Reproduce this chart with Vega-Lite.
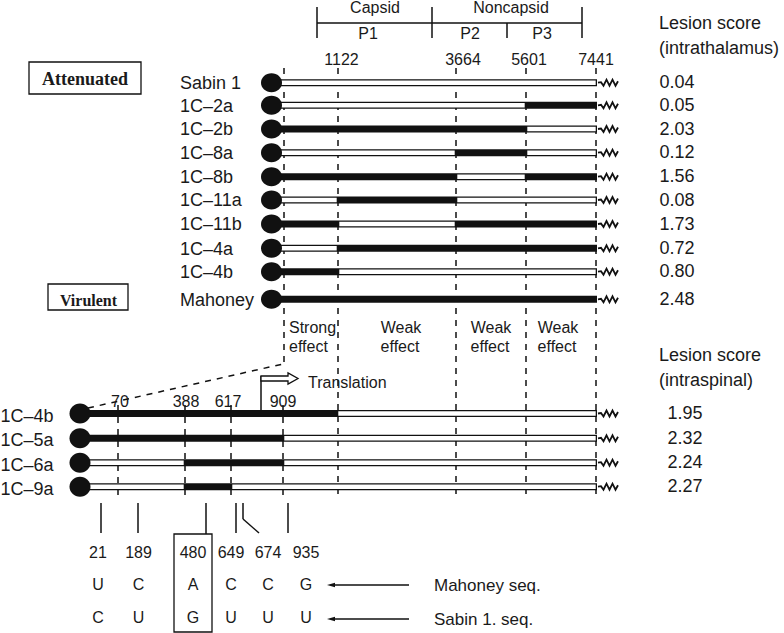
{
  "$schema": "https://vega.github.io/schema/vega-lite/v6.json",
  "width": 784,
  "height": 633,
  "padding": 0,
  "autosize": {"type": "none"},
  "background": "white",
  "config": {"view": {"stroke": null}, "text": {"font": "Liberation Sans", "color": "#1a1a1a"}},
  "datasets": {
    "rows": [
      {"label": "Sabin 1", "panel": "top", "y": 82.7, "score": "0.04"},
      {"label": "1C–2a", "panel": "top", "y": 105.3, "score": "0.05"},
      {"label": "1C–2b", "panel": "top", "y": 129, "score": "2.03"},
      {"label": "1C–8a", "panel": "top", "y": 152.7, "score": "0.12"},
      {"label": "1C–8b", "panel": "top", "y": 176.7, "score": "1.56"},
      {"label": "1C–11a", "panel": "top", "y": 200, "score": "0.08"},
      {"label": "1C–11b", "panel": "top", "y": 224, "score": "1.73"},
      {"label": "1C–4a", "panel": "top", "y": 248.3, "score": "0.72"},
      {"label": "1C–4b", "panel": "top", "y": 271.7, "score": "0.80"},
      {"label": "Mahoney", "panel": "top", "y": 299.3, "score": "2.48"},
      {"label": "1C–4b", "panel": "bottom", "y": 413.5, "score": "1.95"},
      {"label": "1C–5a", "panel": "bottom", "y": 438.3, "score": "2.32"},
      {"label": "1C–6a", "panel": "bottom", "y": 462.7, "score": "2.24"},
      {"label": "1C–9a", "panel": "bottom", "y": 486.7, "score": "2.27"}
    ],
    "segments": [
      {"row": "Sabin 1", "y": 82.7, "x": 276, "x2": 597, "src": "S"},
      {"row": "1C–2a", "y": 105.3, "x": 276, "x2": 526, "src": "S"},
      {"row": "1C–2a", "y": 105.3, "x": 526, "x2": 597, "src": "M"},
      {"row": "1C–2b", "y": 129, "x": 276, "x2": 526, "src": "M"},
      {"row": "1C–2b", "y": 129, "x": 526, "x2": 597, "src": "S"},
      {"row": "1C–8a", "y": 152.7, "x": 276, "x2": 456, "src": "S"},
      {"row": "1C–8a", "y": 152.7, "x": 456, "x2": 526, "src": "M"},
      {"row": "1C–8a", "y": 152.7, "x": 526, "x2": 597, "src": "S"},
      {"row": "1C–8b", "y": 176.7, "x": 276, "x2": 456, "src": "M"},
      {"row": "1C–8b", "y": 176.7, "x": 456, "x2": 526, "src": "S"},
      {"row": "1C–8b", "y": 176.7, "x": 526, "x2": 597, "src": "M"},
      {"row": "1C–11a", "y": 200, "x": 276, "x2": 338, "src": "S"},
      {"row": "1C–11a", "y": 200, "x": 338, "x2": 456, "src": "M"},
      {"row": "1C–11a", "y": 200, "x": 456, "x2": 597, "src": "S"},
      {"row": "1C–11b", "y": 224, "x": 276, "x2": 338, "src": "M"},
      {"row": "1C–11b", "y": 224, "x": 338, "x2": 456, "src": "S"},
      {"row": "1C–11b", "y": 224, "x": 456, "x2": 597, "src": "M"},
      {"row": "1C–4a", "y": 248.3, "x": 276, "x2": 338, "src": "S"},
      {"row": "1C–4a", "y": 248.3, "x": 338, "x2": 597, "src": "M"},
      {"row": "1C–4b", "y": 271.7, "x": 276, "x2": 338, "src": "M"},
      {"row": "1C–4b", "y": 271.7, "x": 338, "x2": 597, "src": "S"},
      {"row": "Mahoney", "y": 299.3, "x": 276, "x2": 597, "src": "M"},
      {"row": "1C–4b (b)", "y": 413.5, "x": 84, "x2": 337, "src": "M"},
      {"row": "1C–4b (b)", "y": 413.5, "x": 337, "x2": 597, "src": "S"},
      {"row": "1C–5a", "y": 438.3, "x": 84, "x2": 283, "src": "M"},
      {"row": "1C–5a", "y": 438.3, "x": 283, "x2": 597, "src": "S"},
      {"row": "1C–6a", "y": 462.7, "x": 84, "x2": 185, "src": "S"},
      {"row": "1C–6a", "y": 462.7, "x": 185, "x2": 283, "src": "M"},
      {"row": "1C–6a", "y": 462.7, "x": 283, "x2": 597, "src": "S"},
      {"row": "1C–9a", "y": 486.7, "x": 84, "x2": 185, "src": "S"},
      {"row": "1C–9a", "y": 486.7, "x": 185, "x2": 231, "src": "M"},
      {"row": "1C–9a", "y": 486.7, "x": 231, "x2": 597, "src": "S"}
    ],
    "dashes": [
      {"x": 284, "y": 68, "x2": 284, "y2": 363},
      {"x": 338, "y": 68, "x2": 338, "y2": 497},
      {"x": 456, "y": 68, "x2": 456, "y2": 497},
      {"x": 526, "y": 68, "x2": 526, "y2": 497},
      {"x": 596, "y": 68, "x2": 596, "y2": 497},
      {"x": 118, "y": 405, "x2": 118, "y2": 497},
      {"x": 185, "y": 405, "x2": 185, "y2": 497},
      {"x": 231, "y": 405, "x2": 231, "y2": 497},
      {"x": 283, "y": 405, "x2": 283, "y2": 497},
      {"x": 88, "y": 408, "x2": 283, "y2": 364}
    ],
    "lines": [
      {"x": 317, "y": 23, "x2": 582, "y2": 23},
      {"x": 317, "y": 7, "x2": 317, "y2": 38},
      {"x": 432, "y": 7, "x2": 432, "y2": 38},
      {"x": 507, "y": 23, "x2": 507, "y2": 38},
      {"x": 582, "y": 7, "x2": 582, "y2": 38},
      {"x": 101, "y": 503, "x2": 101, "y2": 533},
      {"x": 138, "y": 503, "x2": 138, "y2": 533},
      {"x": 206, "y": 503, "x2": 206, "y2": 534},
      {"x": 236, "y": 503, "x2": 236, "y2": 533},
      {"x": 243, "y": 503, "x2": 243, "y2": 519},
      {"x": 243, "y": 519, "x2": 259, "y2": 533},
      {"x": 288, "y": 503, "x2": 288, "y2": 533},
      {"x": 261, "y": 410, "x2": 261, "y2": 376},
      {"x": 335, "y": 585, "x2": 409, "y2": 585},
      {"x": 335, "y": 619, "x2": 409, "y2": 619}
    ],
    "boxes": [
      {"x": 29, "x2": 141, "y": 62, "y2": 94},
      {"x": 48, "x2": 128, "y": 284, "y2": 310},
      {"x": 174, "x2": 212, "y": 534, "y2": 632}
    ],
    "center16": [
      {"x": 375, "y": 13, "t": "Capsid"},
      {"x": 511, "y": 13, "t": "Noncapsid"},
      {"x": 368, "y": 39, "t": "P1"},
      {"x": 470, "y": 39, "t": "P2"},
      {"x": 542, "y": 39, "t": "P3"},
      {"x": 341.5, "y": 65, "t": "1122"},
      {"x": 463, "y": 65, "t": "3664"},
      {"x": 529, "y": 65, "t": "5601"},
      {"x": 596, "y": 65, "t": "7441"},
      {"x": 401, "y": 333, "t": "Weak"},
      {"x": 400, "y": 352, "t": "effect"},
      {"x": 491, "y": 333, "t": "Weak"},
      {"x": 490, "y": 352, "t": "effect"},
      {"x": 558, "y": 333, "t": "Weak"},
      {"x": 557, "y": 352, "t": "effect"},
      {"x": 120, "y": 407, "t": "70"},
      {"x": 186, "y": 407, "t": "388"},
      {"x": 228, "y": 407, "t": "617"},
      {"x": 283, "y": 407, "t": "909"},
      {"x": 98, "y": 558, "t": "21"},
      {"x": 138.5, "y": 558, "t": "189"},
      {"x": 193, "y": 558, "t": "480"},
      {"x": 231, "y": 558, "t": "649"},
      {"x": 268, "y": 558, "t": "674"},
      {"x": 306, "y": 558, "t": "935"},
      {"x": 98, "y": 590, "t": "U"},
      {"x": 138.5, "y": 590, "t": "C"},
      {"x": 193, "y": 590, "t": "A"},
      {"x": 231, "y": 590, "t": "C"},
      {"x": 268, "y": 590, "t": "C"},
      {"x": 306, "y": 590, "t": "G"},
      {"x": 98, "y": 623, "t": "C"},
      {"x": 138.5, "y": 623, "t": "U"},
      {"x": 193, "y": 623, "t": "G"},
      {"x": 231, "y": 623, "t": "U"},
      {"x": 268, "y": 623, "t": "U"},
      {"x": 306, "y": 623, "t": "U"}
    ],
    "left16": [
      {"x": 289, "y": 333, "t": "Strong"},
      {"x": 289, "y": 352, "t": "effect"},
      {"x": 308, "y": 388, "t": "Translation"}
    ],
    "left18": [
      {"x": 659, "y": 29, "t": "Lesion score"},
      {"x": 659, "y": 54, "t": "(intrathalamus)"},
      {"x": 659, "y": 361, "t": "Lesion score"},
      {"x": 659, "y": 386, "t": "(intraspinal)"}
    ],
    "seqLabels": [
      {"x": 434, "y": 591, "t": "Mahoney seq."},
      {"x": 434, "y": 625, "t": "Sabin 1. seq."}
    ]
  },
  "encoding": {
    "y": {"field": "y", "type": "quantitative", "scale": {"domain": [0, 633], "nice": false, "zero": false, "reverse": true}, "axis": null}
  },
  "layer": [
    {
      "data": {"name": "dashes"},
      "mark": {"type": "rule", "strokeDash": [6, 6], "strokeWidth": 1.5, "color": "#111"},
      "encoding": {
        "x": {"field": "x", "type": "quantitative", "scale": {"domain": [0, 784], "nice": false, "zero": false}, "axis": null},
        "x2": {"field": "x2"}, "y2": {"field": "y2"}
      }
    },
    {
      "data": {"name": "lines"},
      "mark": {"type": "rule", "strokeWidth": 1.5, "color": "#111"},
      "encoding": {
        "x": {"field": "x", "type": "quantitative", "scale": {"domain": [0, 784], "nice": false, "zero": false}, "axis": null},
        "x2": {"field": "x2"}, "y2": {"field": "y2"}
      }
    },
    {
      "data": {"name": "boxes"},
      "mark": {"type": "rect", "fill": "white", "fillOpacity": 0, "stroke": "#111", "strokeWidth": 1.3},
      "encoding": {
        "x": {"field": "x", "type": "quantitative", "scale": {"domain": [0, 784], "nice": false, "zero": false}, "axis": null},
        "x2": {"field": "x2"}, "y2": {"field": "y2"}
      }
    },
    {
      "data": {"name": "segments"},
      "mark": {"type": "rule", "strokeWidth": 7, "color": "#111"},
      "encoding": {
        "x": {"field": "x", "type": "quantitative", "scale": {"domain": [0, 784], "nice": false, "zero": false}, "axis": null},
        "x2": {"field": "x2"}
      }
    },
    {
      "data": {"name": "segments"},
      "transform": [{"filter": "datum.src == 'S'"}],
      "mark": {"type": "rule", "strokeWidth": 4.4, "color": "white", "xOffset": 1.3, "x2Offset": -1.3},
      "encoding": {
        "x": {"field": "x", "type": "quantitative", "scale": {"domain": [0, 784], "nice": false, "zero": false}, "axis": null},
        "x2": {"field": "x2"}
      }
    },
    {
      "data": {"name": "rows"},
      "transform": [{"filter": "datum.panel == 'top'"}],
      "mark": {"type": "point", "shape": "M-1,0 A1,0.9 0 1,1 1,0 A1,0.9 0 1,1 -1,0 Z", "size": 441, "filled": true, "color": "#111", "opacity": 1},
      "encoding": {"x": {"datum": 271.5, "type": "quantitative", "scale": {"domain": [0, 784], "nice": false, "zero": false}, "axis": null}}
    },
    {
      "data": {"name": "rows"},
      "transform": [{"filter": "datum.panel == 'bottom'"}],
      "mark": {"type": "point", "shape": "M-1,0 A1,0.95 0 1,1 1,0 A1,0.95 0 1,1 -1,0 Z", "size": 441, "filled": true, "color": "#111", "opacity": 1},
      "encoding": {"x": {"datum": 80, "type": "quantitative", "scale": {"domain": [0, 784], "nice": false, "zero": false}, "axis": null}}
    },
    {
      "data": {"name": "rows"},
      "mark": {"type": "point", "shape": "M-1,0 L-0.7,-0.05 L-0.45,0.3 L-0.15,-0.3 L0.15,0.3 L0.45,-0.3 L0.75,0.3 L1,-0.15", "size": 400, "filled": false, "color": "#111", "strokeWidth": 1.8, "opacity": 1},
      "encoding": {"x": {"datum": 608, "type": "quantitative", "scale": {"domain": [0, 784], "nice": false, "zero": false}, "axis": null}}
    },
    {
      "data": {"values": [{"what": "Translation start", "x": 279.5, "y": 378.5}]},
      "mark": {"type": "point", "shape": "M-1,-0.135 L0.46,-0.135 L0.46,-0.3 L1,0 L0.46,0.3 L0.46,0.135 L-1,0.135 Z", "size": 1369, "filled": true, "fill": "white", "stroke": "#111", "strokeWidth": 1.3, "opacity": 1},
      "encoding": {"x": {"field": "x", "type": "quantitative", "scale": {"domain": [0, 784], "nice": false, "zero": false}, "axis": null}}
    },
    {
      "data": {"values": [{"what": "Mahoney", "x": 331, "y": 585}, {"what": "Sabin 1", "x": 331, "y": 619}]},
      "mark": {"type": "point", "shape": "M-1,0 L1,-0.55 L1,0.55 Z", "size": 64, "filled": true, "color": "#111", "opacity": 1},
      "encoding": {"x": {"field": "x", "type": "quantitative", "scale": {"domain": [0, 784], "nice": false, "zero": false}, "axis": null}}
    },
    {
      "data": {"name": "rows"},
      "transform": [{"filter": "datum.panel == 'top'"}],
      "mark": {"type": "text", "align": "left", "baseline": "alphabetic", "fontSize": 18, "dy": 6.3},
      "encoding": {"x": {"datum": 180, "type": "quantitative", "scale": {"domain": [0, 784], "nice": false, "zero": false}, "axis": null}, "text": {"field": "label"}}
    },
    {
      "data": {"name": "rows"},
      "transform": [{"filter": "datum.panel == 'bottom'"}],
      "mark": {"type": "text", "align": "left", "baseline": "alphabetic", "fontSize": 18, "dy": 8},
      "encoding": {"x": {"datum": 0.5, "type": "quantitative", "scale": {"domain": [0, 784], "nice": false, "zero": false}, "axis": null}, "text": {"field": "label"}}
    },
    {
      "data": {"name": "rows"},
      "transform": [{"filter": "datum.panel == 'top'"}],
      "mark": {"type": "text", "align": "left", "baseline": "alphabetic", "fontSize": 18, "dy": 5.6},
      "encoding": {"x": {"datum": 659.5, "type": "quantitative", "scale": {"domain": [0, 784], "nice": false, "zero": false}, "axis": null}, "text": {"field": "score"}}
    },
    {
      "data": {"name": "rows"},
      "transform": [{"filter": "datum.panel == 'bottom'"}],
      "mark": {"type": "text", "align": "left", "baseline": "alphabetic", "fontSize": 18, "dy": 5.3},
      "encoding": {"x": {"datum": 667.5, "type": "quantitative", "scale": {"domain": [0, 784], "nice": false, "zero": false}, "axis": null}, "text": {"field": "score"}}
    },
    {
      "data": {"name": "center16"},
      "mark": {"type": "text", "align": "center", "baseline": "alphabetic", "fontSize": 16},
      "encoding": {"x": {"field": "x", "type": "quantitative", "scale": {"domain": [0, 784], "nice": false, "zero": false}, "axis": null}, "text": {"field": "t"}}
    },
    {
      "data": {"name": "left16"},
      "mark": {"type": "text", "align": "left", "baseline": "alphabetic", "fontSize": 16},
      "encoding": {"x": {"field": "x", "type": "quantitative", "scale": {"domain": [0, 784], "nice": false, "zero": false}, "axis": null}, "text": {"field": "t"}}
    },
    {
      "data": {"name": "left18"},
      "mark": {"type": "text", "align": "left", "baseline": "alphabetic", "fontSize": 18},
      "encoding": {"x": {"field": "x", "type": "quantitative", "scale": {"domain": [0, 784], "nice": false, "zero": false}, "axis": null}, "text": {"field": "t"}}
    },
    {
      "data": {"name": "seqLabels"},
      "mark": {"type": "text", "align": "left", "baseline": "alphabetic", "fontSize": 17},
      "encoding": {"x": {"field": "x", "type": "quantitative", "scale": {"domain": [0, 784], "nice": false, "zero": false}, "axis": null}, "text": {"field": "t"}}
    },
    {
      "data": {"values": [{"x": 85, "y": 85, "t": "Attenuated"}]},
      "mark": {"type": "text", "align": "center", "baseline": "alphabetic", "fontSize": 18, "font": "Liberation Serif", "fontWeight": "bold"},
      "encoding": {"x": {"field": "x", "type": "quantitative", "scale": {"domain": [0, 784], "nice": false, "zero": false}, "axis": null}, "text": {"field": "t"}}
    },
    {
      "data": {"values": [{"x": 88.5, "y": 306, "t": "Virulent"}]},
      "mark": {"type": "text", "align": "center", "baseline": "alphabetic", "fontSize": 16, "font": "Liberation Serif", "fontWeight": "bold"},
      "encoding": {"x": {"field": "x", "type": "quantitative", "scale": {"domain": [0, 784], "nice": false, "zero": false}, "axis": null}, "text": {"field": "t"}}
    }
  ]
}
